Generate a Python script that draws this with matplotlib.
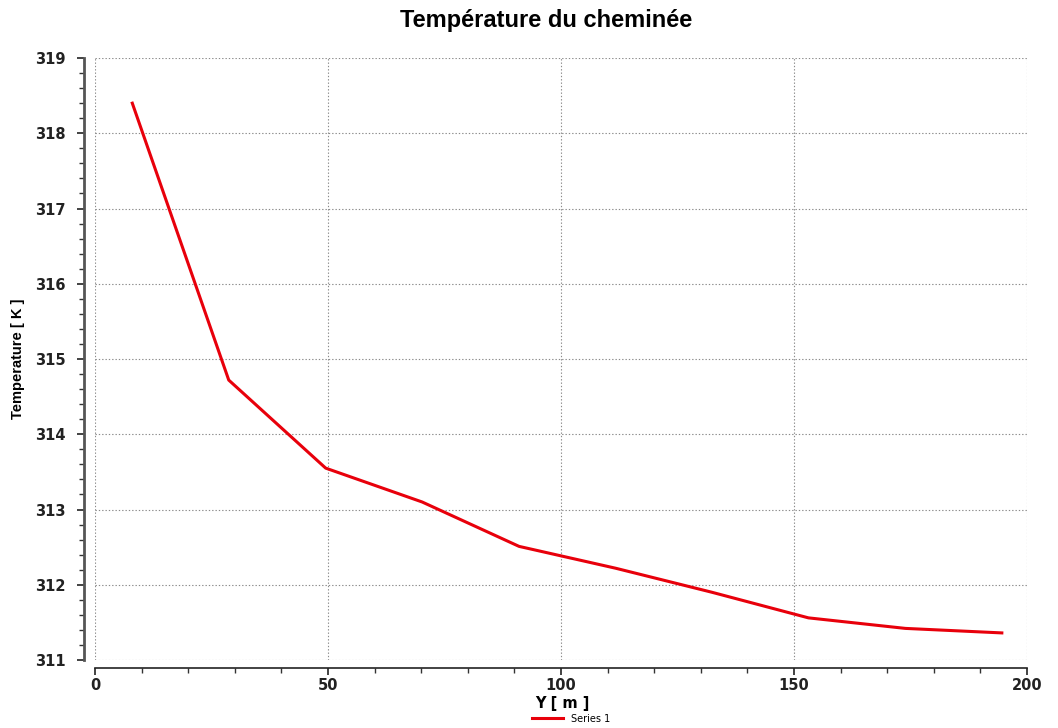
import matplotlib.pyplot as plt
from matplotlib.ticker import MultipleLocator

# température le long de la cheminée
y_pos = [8.0, 28.7, 49.5, 70.2, 91.0, 111.7, 132.4, 153.1, 173.9, 194.6]
temperature = [318.40, 314.72, 313.55, 313.10, 312.51, 312.22, 311.90, 311.56, 311.42, 311.36]

fig = plt.figure(figsize=(10.58, 7.28), dpi=100)
ax = fig.add_axes([0.0898, 0.0934, 0.8809, 0.8269])

ax.plot(y_pos, temperature, color='#e8000b', lw=2.2, label='Series 1')

ax.set_xlim(0, 200)
ax.set_ylim(311, 319)
ax.xaxis.set_major_locator(MultipleLocator(50))
ax.xaxis.set_minor_locator(MultipleLocator(10))
ax.yaxis.set_major_locator(MultipleLocator(1))
ax.yaxis.set_minor_locator(MultipleLocator(0.2))
ax.grid(True, which='major', linestyle=(0, (1.2, 1.8)), color='#8a8a8a', lw=0.8)

ax.spines['top'].set_visible(False)
ax.spines['right'].set_visible(False)
ax.spines['left'].set_position(('outward', 8))
ax.spines['bottom'].set_position(('outward', 6))
ax.spines['left'].set_color('#555555')
ax.spines['left'].set_linewidth(2.0)
ax.spines['bottom'].set_color('#222222')
ax.spines['bottom'].set_linewidth(1.2)

ax.tick_params(axis='both', which='major', length=5, width=1.2, color='#222222',
               labelsize=10.5)
ax.tick_params(axis='y', which='major', pad=8)
ax.tick_params(axis='x', which='major', pad=2)
ax.tick_params(axis='both', which='minor', length=3.5, width=1.0, color='#333333')
for lab in ax.get_xticklabels() + ax.get_yticklabels():
    lab.set_fontweight('bold')
    lab.set_color('#222222')

ax.set_xlabel('Y [ m ]', fontsize=10.5, fontweight='bold')
ax.set_ylabel('Temperature [ K ]', fontsize=10.5,
              family=['Liberation Sans', 'DejaVu Sans'], fontweight='bold')
ax.xaxis.set_label_coords(0.502, -0.059)
ax.yaxis.set_label_coords(-0.075, 0.5)

fig.suptitle('Température du cheminée', fontsize=17, fontweight='bold',
             family=['Liberation Sans', 'DejaVu Sans'], x=0.516, y=0.988)

fig.legend(loc='center', bbox_to_anchor=(0.54, 0.013), frameon=False,
           fontsize=7, handlelength=3.2)

fig.savefig('out.png', dpi=100)
